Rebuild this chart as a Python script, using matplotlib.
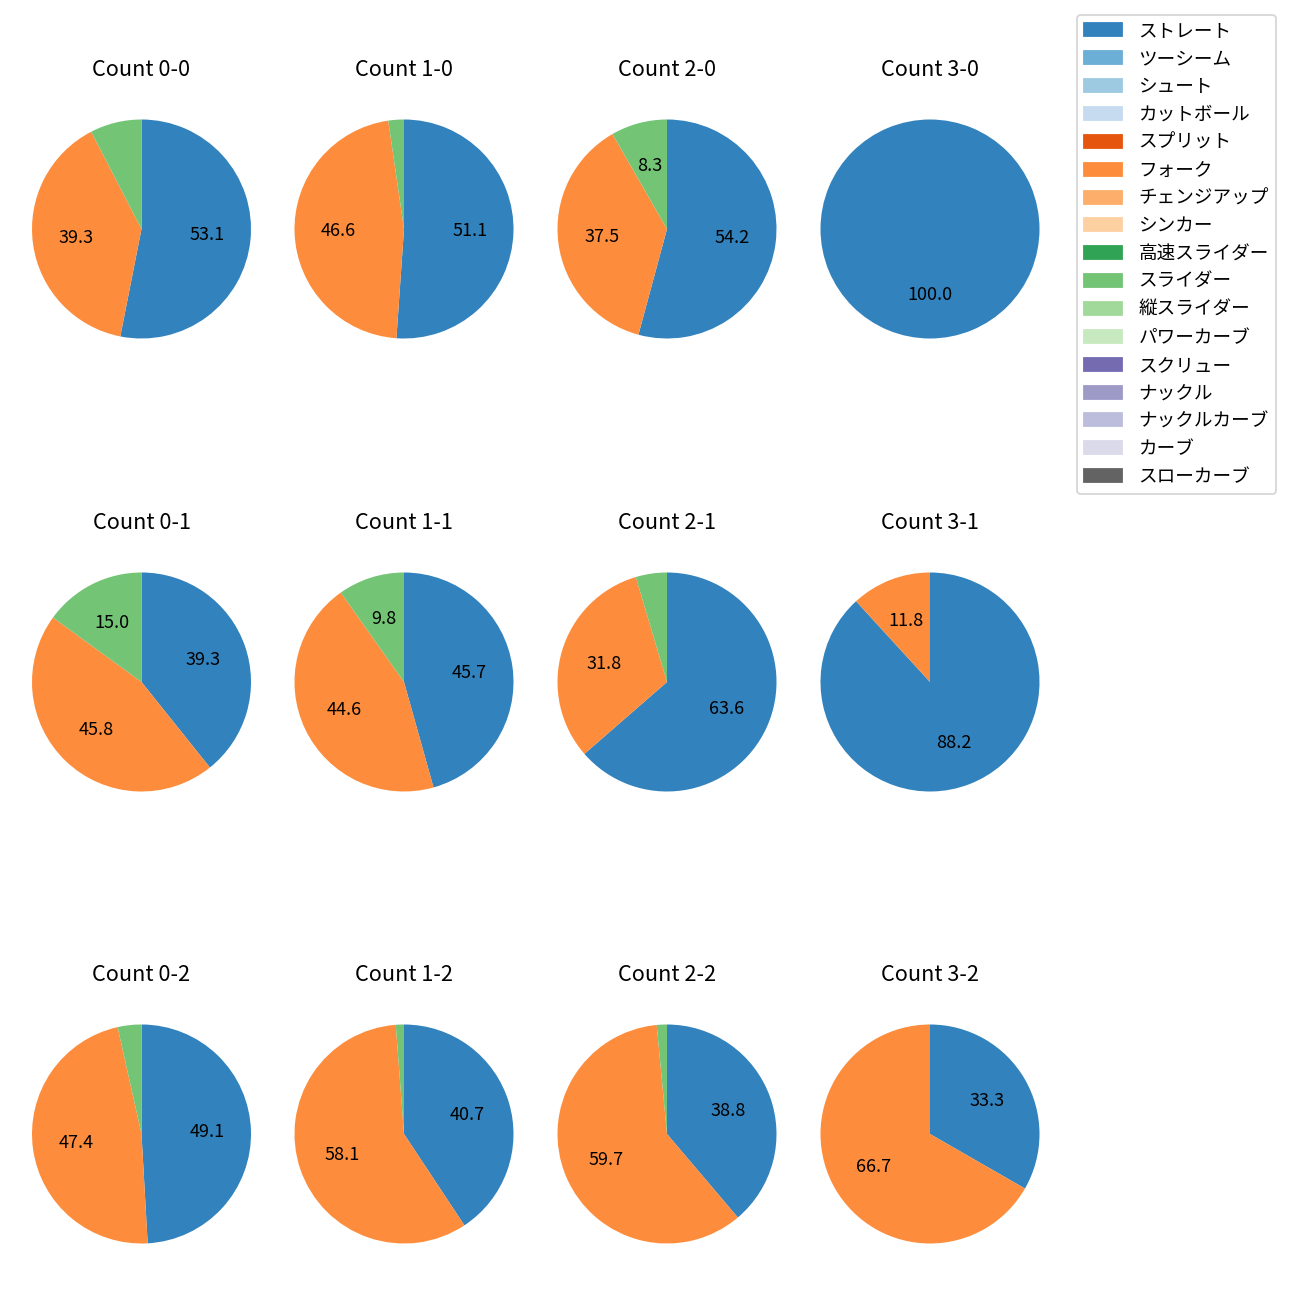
import matplotlib
matplotlib.use("Agg")
import matplotlib.pyplot as plt
from matplotlib.patches import Patch

plt.rcParams['font.family'] = ['Noto Sans CJK JP', 'DejaVu Sans']

pitch_types = ['ストレート', 'ツーシーム', 'シュート', 'カットボール', 'スプリット', 'フォーク',
               'チェンジアップ', 'シンカー', '高速スライダー', 'スライダー', '縦スライダー',
               'パワーカーブ', 'スクリュー', 'ナックル', 'ナックルカーブ', 'カーブ', 'スローカーブ']

counts = ['0-0', '1-0', '2-0', '3-0',
          '0-1', '1-1', '2-1', '3-1',
          '0-2', '1-2', '2-2', '3-2']

# shares (%) of ストレート, フォーク, スライダー per count
straight = [53.1, 51.1, 54.2, 100.0, 39.3, 45.7, 63.6, 88.2, 49.1, 40.7, 38.8, 33.3]
fork     = [39.3, 46.6, 37.5, 0.0,   45.8, 44.6, 31.8, 11.8, 47.4, 58.1, 59.7, 66.7]
slider   = [7.6,  2.3,  8.3,  0.0,   15.0, 9.8,  4.6,  0.0,  3.5,  1.2,  1.5,  0.0]

cmap = plt.get_cmap('tab20c')
colors = [cmap(i) for i in range(len(pitch_types))]
color_of = dict(zip(pitch_types, colors))

W = H = 1300
fig = plt.figure(figsize=(10, 10), dpi=130)

col_x = [141.5, 404, 667, 930]
row_y = [229, 682, 1134]
radius_px = 109.5
size = radius_px * 1.25 * 2

def fmt(p):
    return f'{p:.1f}' if p >= 8 else ''

for i, c in enumerate(counts):
    r, k = divmod(i, 4)
    cx, cy = col_x[k], H - row_y[r]
    ax = fig.add_axes([(cx - size / 2) / W, (cy - size / 2) / H, size / W, size / H])
    vals, cols = [], []
    for name, arr in (('ストレート', straight), ('フォーク', fork), ('スライダー', slider)):
        if arr[i] > 0:
            vals.append(arr[i])
            cols.append(color_of[name])
    ax.pie(vals, colors=cols, startangle=90, counterclock=False, autopct=fmt,
           textprops={'fontsize': 10})
    ax.set_title(f'Count {c}', fontsize=12, pad=9)

handles = [Patch(color=color_of[n], label=n) for n in pitch_types]
fig.legend(handles=handles, loc='upper left', bbox_to_anchor=(1077 / W, 1 - 15 / H),
           borderaxespad=0, fontsize=10.3, labelspacing=0.53, handletextpad=0.9)

fig.savefig('out.png', dpi=130)
